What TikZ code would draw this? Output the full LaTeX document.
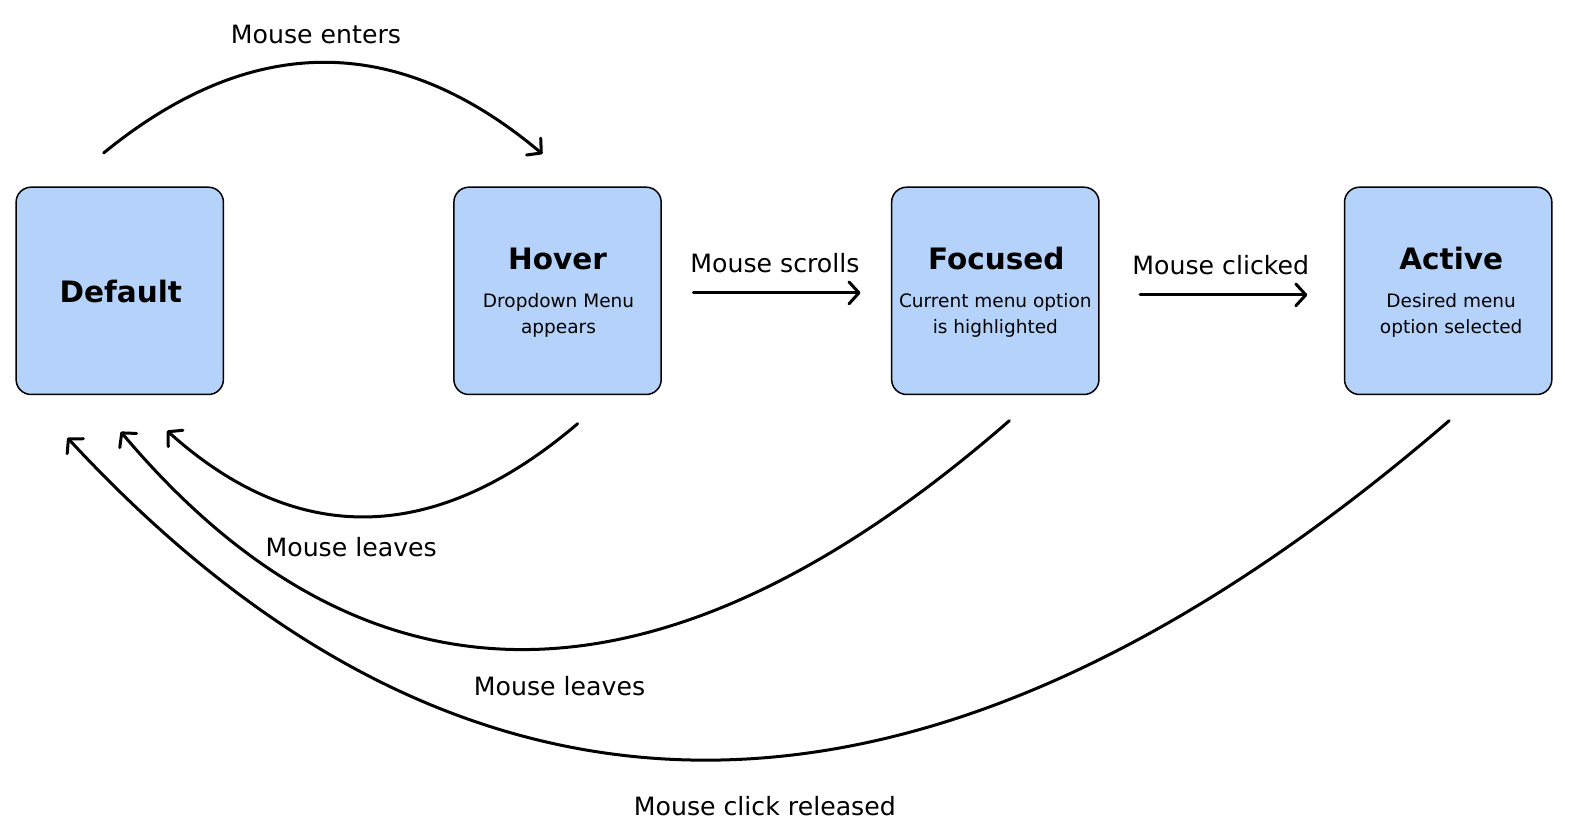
\documentclass[tikz,border=0pt]{standalone}
\usepackage{fontspec}
\setmainfont{DejaVu Sans}
\usetikzlibrary{arrows.meta}
\definecolor{boxblue}{HTML}{B5D3FA}
\begin{document}
\begin{tikzpicture}[x=1.00638pt,y=-1.00638pt,
  statebox/.style={draw=black, line width=1.5pt, fill=boxblue, rounded corners=15pt, minimum width=207.3pt, minimum height=207.3pt, inner sep=0pt},
  ttl/.style={font=\fontsize{29.5}{34}\selectfont\bfseries, anchor=base, inner sep=0pt},
  sub/.style={font=\fontsize{18.5}{22}\selectfont, anchor=base, inner sep=0pt},
  lbl/.style={font=\fontsize{25.2}{30}\selectfont, anchor=base, inner sep=0pt},
  conn/.style={line width=3pt, line cap=round, -{Straight Barb[length=10pt,width=22pt,line cap=round,line join=round]}},
]
\useasboundingbox (0,0) rectangle (1568,828.7);

% boxes
\node[statebox] (def) at (119,289) {};
\node[statebox] (hov) at (554,289) {};
\node[statebox] (foc) at (989,289) {};
\node[statebox] (act) at (1439,289) {};

% box texts
\node[ttl] (tdef) at (120,301) {Default};
\node[ttl] (thov) at (554,268) {Hover};
\node[sub] (shov1) at (555,306) {Dropdown Menu};
\node[sub] (shov2) at (555,331) {appears};
\node[ttl] (tfoc) at (990,268) {Focused};
\node[sub] (sfoc1) at (989,306) {Current menu option};
\node[sub] (sfoc2) at (989,331) {is highlighted};
\node[ttl] (tact) at (1442,268) {Active};
\node[sub] (sact1) at (1442,306) {Desired menu};
\node[sub] (sact2) at (1442,331) {option selected};

% connector end points
\coordinate (enterS) at (103,152);
\coordinate (enterE) at (539,153);
\coordinate (scrS) at (689,291);
\coordinate (scrE) at (855,291);
\coordinate (clkS) at (1133,293);
\coordinate (clkE) at (1299,293);
\coordinate (lv1S) at (574,421);
\coordinate (lv1E) at (166,428);
\coordinate (lv2S) at (1003,418);
\coordinate (lv2E) at (120,429);
\coordinate (relS) at (1440,418);
\coordinate (relE) at (67,435);

% connectors
\draw[conn] (enterS) .. controls (250,32) and (395,32) .. (enterE);
\draw[conn] (scrS) -- (scrE);
\draw[conn] (clkS) -- (clkE);
\draw[conn] (lv1S) .. controls (432,542) and (295,544) .. (lv1E);
\draw[conn] (lv2S) .. controls (660,717) and (366,721) .. (lv2E);
\draw[conn] (relS) .. controls (925,862) and (467,867) .. (relE);

% labels
\node[lbl] (lenter) at (314,43) {Mouse enters};
\node[lbl] (lscr) at (770,271) {Mouse scrolls};
\node[lbl] (lclk) at (1213,273) {Mouse clicked};
\node[lbl] (llv1) at (349,553) {Mouse leaves};
\node[lbl] (llv2) at (556,691) {Mouse leaves};
\node[lbl] (lrel) at (760,810) {Mouse click released};
\end{tikzpicture}
\end{document}
